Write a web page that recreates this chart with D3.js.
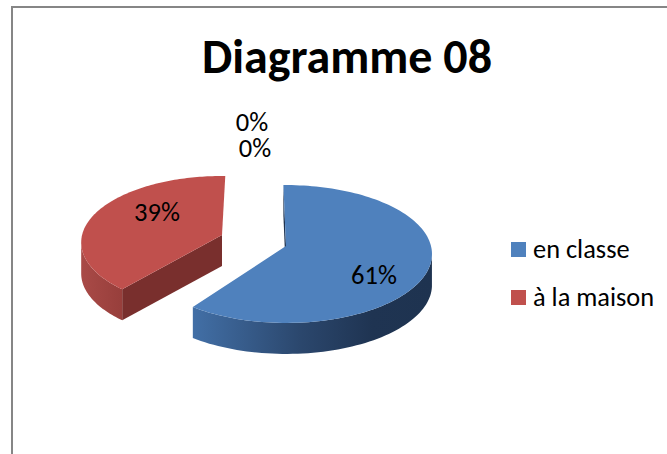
<!DOCTYPE html>
<html><head><meta charset="utf-8">
<script src="https://cdn.jsdelivr.net/npm/d3@7"></script>
<style>html,body{margin:0;padding:0;background:#fff;overflow:hidden}text{font-family:Carlito,Lato,sans-serif;fill:#000}</style>
</head><body><svg id="c" width="667" height="454"></svg>
<script>
const title = "Diagramme 08";
const categories = ["en classe", "à la maison", "", ""];
const values = [61, 39, 0, 0];
const valueLabels = ["61%", "39%", "0%", "0%"];
const topColors = ["#4f81bd", "#c0504d", "#9bbb59", "#8064a2"];
const labelAnchors = [[374,275],[157,212],[252,122],[255,148]];
const apexes = [[286,246],[222,235],[240,240],[240,240]];
const sliceScale = [1, 0.965, 1, 1];
const angleTweaks = [[0,-0.05],[0.04,0.046],[0,0],[0,0]];
const wallStops = [
  [["0","#426fa6"],["0.45","#2b476d"],["0.75","#1f3452"],["1","#1e3350"]],
  [["0","#a94a47"],["0.6","#84322f"],["1","#7a302e"]],
  [["0","#999"],["1","#999"]],[["0","#999"],["1","#999"]]
];
const cutColors = ["#1f3350", "#792f2d", "#666", "#666"];

const svg = d3.select("#c");
const RX = 145, RY = 68, K = 0.116, DEPTH = 31;
const pie = d3.pie().sort(null).startAngle(-0.02).endAngle(2*Math.PI-0.02);
const arcs = pie(values);
const project = (apex, a, r=1) => {
  const u = r*Math.sin(a), v = -r*Math.cos(a), s = 1/(1-K*v);
  return [apex[0]+RX*u*s, apex[1]+RY*v*s];
};
const line = d3.line();
const down = p => [p[0], p[1]+DEPTH];
const defs = svg.append("defs");

svg.append("rect").attr("x",12).attr("y",7).attr("width",900).attr("height",700)
  .attr("fill","#fff").attr("stroke","#868686").attr("stroke-width",2);

svg.append("text").attr("x",347).attr("y",73).attr("text-anchor","middle")
  .attr("font-size",48).attr("font-weight",700).text(title);

const order = [1,0];
order.forEach(i => {
  const d = arcs[i], apex = apexes[i];
  if (d.endAngle - d.startAngle <= 0) return;
  const a0 = d.startAngle + angleTweaks[i][0], a1 = d.endAngle + angleTweaks[i][1];
  const angles = d3.range(0,121).map(t => a0+(a1-a0)*t/120);
  const pts = angles.map(a => project(apex, a, sliceScale[i]));
  const wallPts = angles.filter(a => -Math.cos(a) >= K).map(a => project(apex, a, sliceScale[i]));
  const xs = d3.extent(pts, p=>p[0]);
  const gid = "w"+i;
  const g = defs.append("linearGradient").attr("id",gid).attr("gradientUnits","userSpaceOnUse")
    .attr("x1",xs[0]).attr("x2",xs[1]).attr("y1",0).attr("y2",0);
  wallStops[i].forEach(s => g.append("stop").attr("offset",s[0]).attr("stop-color",s[1]));
  const group = svg.append("g");
  const e = pts[0];
  group.append("path").attr("d", line([apex,e,down(e),down(apex)])+"Z").attr("fill",cutColors[i]);
  group.append("path").attr("d", line(wallPts.concat(wallPts.slice().reverse().map(down)))+"Z").attr("fill",`url(#${gid})`);
  group.append("path").attr("d", line([apex].concat(pts))+"Z").attr("fill",topColors[i]);
});

values.forEach((v,i) => {
  svg.append("text").attr("x",labelAnchors[i][0]).attr("y",labelAnchors[i][1]+9)
    .attr("text-anchor","middle").attr("font-size",26.5).text(valueLabels[i]);
});

const legendY = d3.scalePoint().domain(categories.slice(0,2)).range([249.5,297.5]);
categories.slice(0,2).forEach((c,i) => {
  const y = legendY(c);
  svg.append("rect").attr("x",511).attr("y",y-7.5).attr("width",15).attr("height",15).attr("fill",topColors[i]);
  svg.append("text").attr("x",533).attr("y",y+8).attr("font-size",26.4).text(c);
});
</script></body></html>
